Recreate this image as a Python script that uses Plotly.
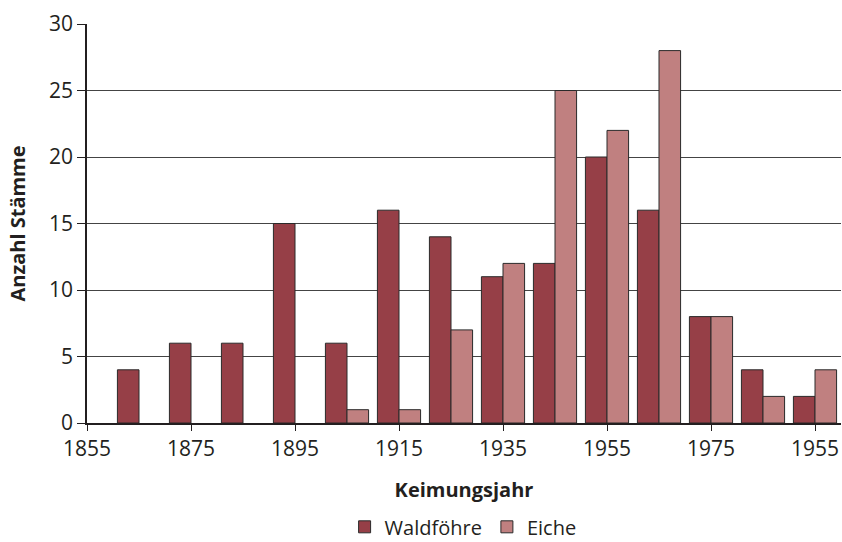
import plotly.graph_objects as go

years = [1865, 1875, 1885, 1895, 1905, 1915, 1925, 1935, 1945, 1955, 1965, 1975, 1985, 1995]
waldfoehre = [4, 6, 6, 15, 6, 16, 14, 11, 12, 20, 16, 8, 4, 2]
eiche = [None, None, None, None, 1, 1, 7, 12, 25, 22, 28, 8, 2, 4]
tick_vals = [1855, 1875, 1895, 1915, 1935, 1955, 1975, 1995]
tick_text = ["1855", "1875", "1895", "1915", "1935", "1955", "1975", "1955"]

FONT = "Open Sans"
fig = go.Figure()
fig.add_trace(go.Bar(x=years, y=waldfoehre, name="Waldföhre",
                     marker=dict(color="#963f47", line=dict(color="#2a2a2a", width=1))))
fig.add_trace(go.Bar(x=years, y=eiche, name="Eiche",
                     marker=dict(color="#c08080", line=dict(color="#2a2a2a", width=1))))

fig.update_layout(
    width=842, height=542,
    margin=dict(l=87, r=1, t=24, b=119),
    paper_bgcolor="white", plot_bgcolor="white",
    barmode="group", bargap=0.17, bargroupgap=0,
    font=dict(family=FONT, size=20, color="#231f20"),
    legend=dict(orientation="h", x=0.55, xanchor="center", xref="container",
                y=0.028, yanchor="middle", yref="container",
                font=dict(size=20), itemwidth=30, tracegroupgap=0),
    xaxis=dict(range=[1855, 2000], tickmode="array", tickvals=tick_vals, ticktext=tick_text,
               showgrid=False, showline=True, linecolor="#231f20", linewidth=1.5,
               ticks="outside", ticklen=6, tickcolor="#231f20", zeroline=False,
               automargin=False, tickfont=dict(size=21),
               title=dict(text="<b>Keimungsjahr</b>", font=dict(size=20), standoff=22)),
    yaxis=dict(range=[0, 30], dtick=5, showgrid=True, gridcolor="#444444", gridwidth=1,
               showline=True, linecolor="#231f20", linewidth=1.5,
               ticks="outside", ticklen=8, tickcolor="#231f20", zeroline=False,
               automargin=False, tickfont=dict(size=21),
               title=dict(text="<b>Anzahl Stämme</b>", font=dict(size=20), standoff=18)),
)
fig.write_html("out.html", config={"displayModeBar": False},
               post_script="document.body.style.margin='0';document.body.style.overflow='hidden';")
